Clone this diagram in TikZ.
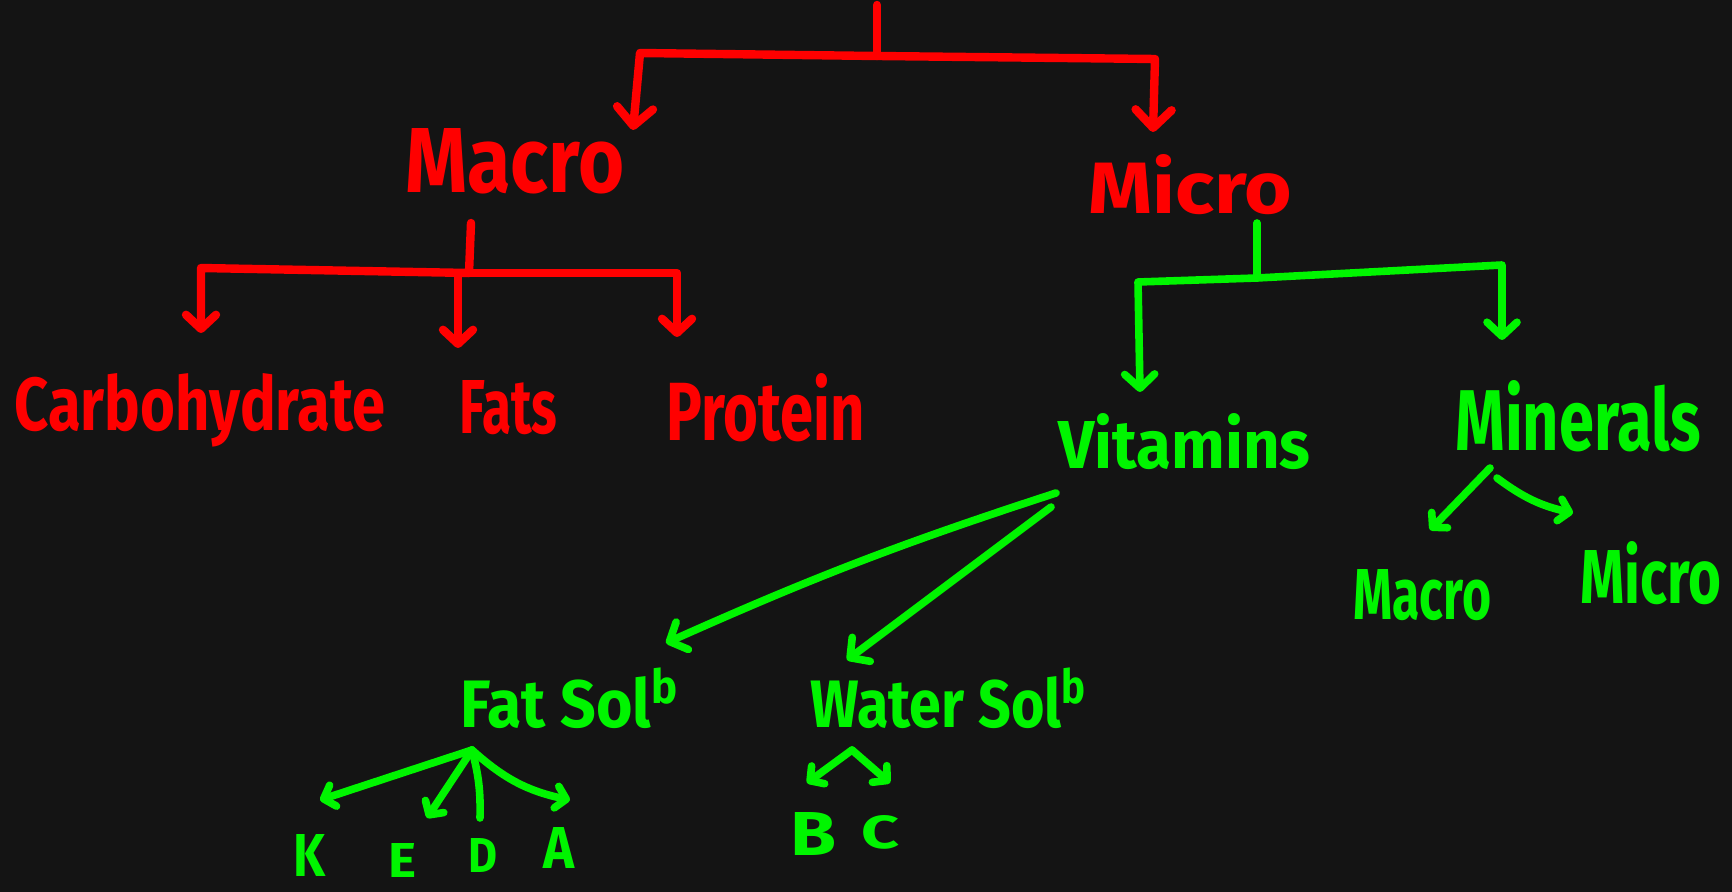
\documentclass[tikz,border=0pt]{standalone}
\usepackage{fontspec}
\setmainfont{Fira Sans}
\usetikzlibrary{arrows.meta}

\definecolor{board}{RGB}{20,20,20}
\definecolor{inkred}{RGB}{255,0,0}
\definecolor{inkgreen}{RGB}{0,245,0}

% a word squeezed into a box of given width and letter height
\newcommand{\hand}[3]{\resizebox{#1}{#2}{\bfseries #3}}

\tikzset{
  pen/.style={line width=4.2pt, line cap=round, line join=round},
  redpen/.style={pen, draw=inkred},
  greenpen/.style={pen, draw=inkgreen, line width=3.8pt},
  bigarr/.style={-{Straight Barb[length=9pt,width=18pt,round]}},
  midarr/.style={-{Straight Barb[length=7pt,width=15pt,round]}},
  smallarr/.style={-{Straight Barb[length=5pt,width=11pt,round]}},
  word/.style={inner sep=0pt, anchor=north west},
  redword/.style={word, text=inkred},
  greenword/.style={word, text=inkgreen}
}

\begin{document}
\begin{tikzpicture}[x=0.5pt, y=-0.5pt]
  \useasboundingbox (0,0) rectangle (1732,892);
  \fill[board] (0,0) rectangle (1732,892);

  % ---------- words ----------
  \node[redword] (macro) at (405,128) {\hand{109.5pt}{32pt}{Macro}};
  \node[redword] (micro) at (1088,154) {\hand{102pt}{29.5pt}{Micro}};
  \node[redword] (carb) at (14,373) {\hand{185.5pt}{28.5pt}{Carbohydrate}};
  \node[redword] (fats) at (459,380) {\hand{49pt}{26.5pt}{Fats}};
  \node[redword] (protein) at (666,373) {\hand{99pt}{33.5pt}{Protein}};

  \node[greenword] (vitamins) at (1058,413) {\hand{126pt}{27.5pt}{Vitamins}};
  \node[greenword] (minerals) at (1455,380) {\hand{122.5pt}{35pt}{Minerals}};
  \node[greenword] (minmacro) at (1353,569) {\hand{69pt}{25pt}{Macro}};
  \node[greenword] (minmicro) at (1580,541) {\hand{70.5pt}{31pt}{Micro}};
  \node[greenword] (fatsol) at (460,667) {\hand{110pt}{30pt}{Fat Sol\textsuperscript{b}}};
  \node[greenword] (watersol) at (810,667) {\hand{139pt}{30pt}{Water Sol\textsuperscript{b}}};

  \node[greenword] (vk) at (293,834) {\hand{16pt}{21pt}{K}};
  \node[greenword] (ve) at (388,843) {\hand{14pt}{17pt}{E}};
  \node[greenword] (vd) at (468,838) {\hand{14.5pt}{17pt}{D}};
  \node[greenword] (va) at (543,827) {\hand{15.5pt}{20.5pt}{A}};
  \node[greenword] (vb) at (790,812) {\hand{23pt}{21.5pt}{B}};
  \node[greenword] (vc) at (861,815) {\hand{19pt}{16.5pt}{C}};

  % ---------- junction points and arrow ends ----------
  \coordinate (rootTop) at (877,5);
  \coordinate (rootJ) at (877,56);
  \coordinate (macroIn) at (633,130);
  \coordinate (microIn) at (1153,132);

  \coordinate (macroStem) at (471,223);
  \coordinate (macroJ) at (469,273);
  \coordinate (carbIn) at (201,333);
  \coordinate (fatsIn) at (458,348);
  \coordinate (protIn) at (677,337);

  \coordinate (microStem) at (1257,223);
  \coordinate (microJ) at (1257,278);
  \coordinate (vitIn) at (1140,392);
  \coordinate (minIn) at (1502,340);

  \coordinate (minOutL) at (1490,468);
  \coordinate (minOutR) at (1497,478);
  \coordinate (minMacroIn) at (1430,530);
  \coordinate (minMicroIn) at (1573,513);

  \coordinate (vitOutA) at (1056,493);
  \coordinate (vitOutB) at (1051,507);
  \coordinate (fatSolIn) at (666,643);
  \coordinate (waterSolIn) at (847,660);

  \coordinate (fatJ) at (472,750);
  \coordinate (kIn) at (320,800);
  \coordinate (eIn) at (427,818);
  \coordinate (dIn) at (480,818);
  \coordinate (aIn) at (570,800);

  \coordinate (waterJ) at (852,750);
  \coordinate (bIn) at (807,783);
  \coordinate (cIn) at (890,783);

  % ---------- red tree ----------
  \draw[redpen] (rootTop) -- (rootJ);
  \draw[redpen, bigarr] (rootJ) -- (640,53) -- (macroIn);
  \draw[redpen, bigarr] (rootJ) -- (1155,59) -- (microIn);

  \draw[redpen] (macroStem) -- (macroJ);
  \draw[redpen, midarr] (macroJ) -- (201,268) -- (carbIn);
  \draw[redpen, midarr] (458,276) -- (fatsIn);
  \draw[redpen, midarr] (macroJ) -- (677,273) -- (protIn);

  % ---------- green tree ----------
  \draw[greenpen] (microStem) -- (microJ);
  \draw[greenpen, midarr] (microJ) -- (1138,282) -- (vitIn);
  \draw[greenpen, midarr] (microJ) -- (1502,265) -- (minIn);

  \draw[greenpen, smallarr] (minOutL) -- (minMacroIn);
  \draw[greenpen, smallarr] (minOutR) to[bend right=12] (minMicroIn);

  \draw[greenpen, midarr] (vitOutA) to[bend right=3] (fatSolIn);
  \draw[greenpen, midarr] (vitOutB) -- (waterSolIn);

  \draw[greenpen, smallarr] (fatJ) -- (kIn);
  \draw[greenpen, smallarr] (fatJ) -- (eIn);
  \draw[greenpen] (fatJ) to[bend left=8] (dIn);
  \draw[greenpen, smallarr] (fatJ) to[bend right=15] (aIn);

  \draw[greenpen, smallarr] (waterJ) -- (bIn);
  \draw[greenpen, smallarr] (waterJ) -- (cIn);
\end{tikzpicture}
\end{document}
